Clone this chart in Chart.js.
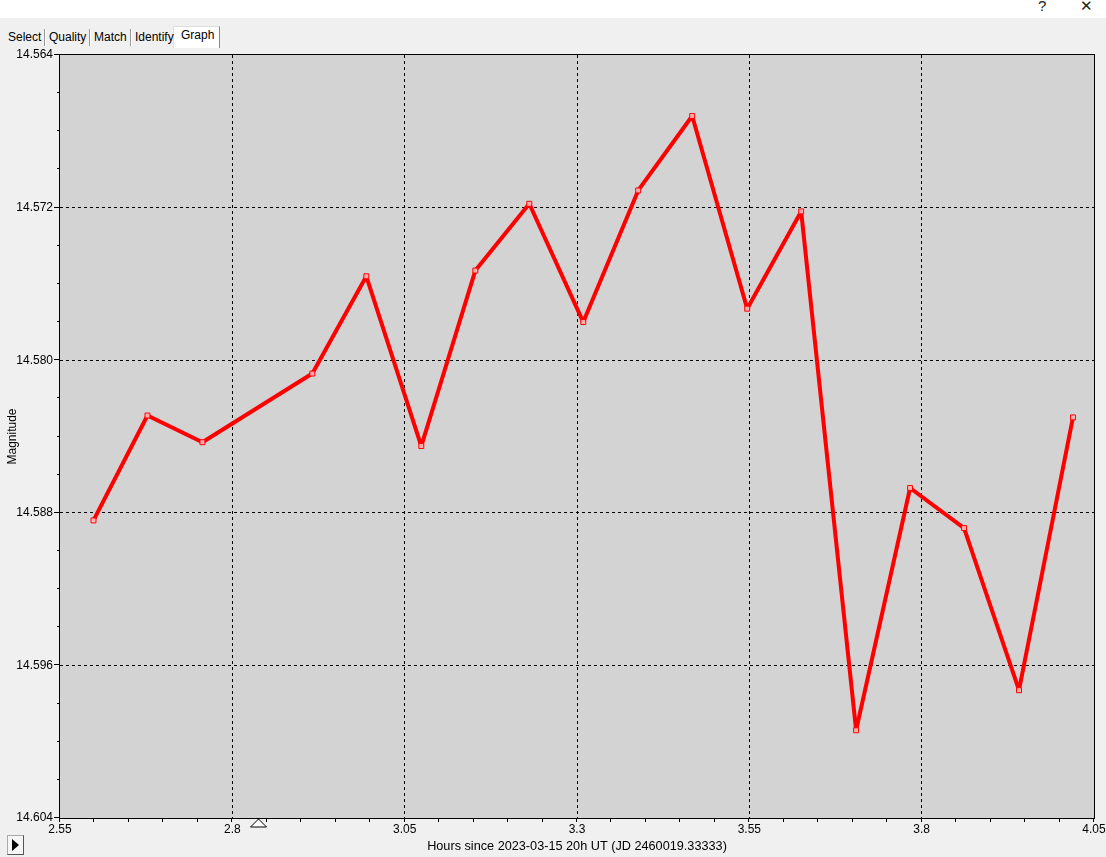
<!DOCTYPE html>
<html><head><meta charset="utf-8">
<script src="https://cdn.jsdelivr.net/npm/chart.js@4.4.1/dist/chart.umd.min.js"></script>
<style>
html,body{margin:0;padding:0;background:#f0f0f0;width:1106px;height:857px;overflow:hidden;font-family:"Liberation Sans",Arial,sans-serif;}
#top{position:absolute;left:0;top:0;width:1106px;height:18px;background:#fff;}
#top span{position:absolute;top:-3px;font-size:15px;color:#222;}
#tabs{position:absolute;left:4px;top:28px;height:20px;font-size:12px;color:#000;}
.tab{position:absolute;top:0;padding:0 3px;line-height:18px;}
.sep{position:absolute;top:1px;width:1px;height:17px;background:#999;border-right:1px solid #fff;}
#active{position:absolute;left:173px;top:26px;width:45px;height:21px;background:#fff;border:1px solid #ddd;border-right:1px solid #888;border-bottom:none;}
#wrap{position:absolute;left:0;top:0;width:1106px;height:857px;}
#play{position:absolute;left:7px;top:835px;width:15px;height:18px;background:#f6f6f6;border:1px solid #aaa;border-right-color:#555;border-bottom-color:#555;}
#play:after{content:"";position:absolute;left:4px;top:3px;border-left:7px solid #000;border-top:6px solid transparent;border-bottom:6px solid transparent;}
</style></head>
<body>
<div id="top"><span style="left:1038px">?</span><span style="left:1080px">✕</span></div>
<div id="active"></div>
<div id="tabs">
<span class="tab" style="left:1px">Select</span><span class="sep" style="left:40px"></span>
<span class="tab" style="left:42px">Quality</span><span class="sep" style="left:85px"></span>
<span class="tab" style="left:87px">Match</span><span class="sep" style="left:126px"></span>
<span class="tab" style="left:128px">Identify</span>
<span class="tab" style="left:174px;top:-2px">Graph</span>
</div>
<div id="wrap"><canvas id="c" width="1106" height="857"></canvas></div>
<div id="play"></div>
<script>
const hours = [2.5986, 2.6769, 2.7566, 2.9161, 2.9944, 3.0741, 3.1525, 3.2308, 3.3091, 3.3888, 3.4671, 3.5469, 3.6252, 3.7049, 3.7832, 3.8615, 3.9412, 4.0195];
const magnitudes = [14.5884, 14.5829, 14.5843, 14.5807, 14.5756, 14.5845, 14.5753, 14.5718, 14.5780, 14.5711, 14.5672, 14.5773, 14.5722, 14.5994, 14.5867, 14.5888, 14.5973, 14.5830];
const xTicks = [2.55, 2.8, 3.05, 3.3, 3.55, 3.8, 4.05];
const yTicks = [14.564, 14.572, 14.580, 14.588, 14.596, 14.604];
const xMinorStep = 0.05;
const yMinorStep = 0.002;
const cursorHour = 2.838;
const xTitle = "Hours since 2023-03-15 20h UT (JD 2460019.33333)";
const yTitle = "Magnitude";

const FONT = {family: '"Liberation Sans", Arial, sans-serif', size: 12};
const TITLE_FONT = {family: '"Liberation Sans", Arial, sans-serif', size: 12.7};

const frame = {
  id: 'frame',
  beforeDraw(chart) {
    const {ctx, chartArea: a} = chart;
    ctx.save();
    ctx.fillStyle = '#d3d3d3';
    ctx.fillRect(a.left, a.top, a.right - a.left, a.bottom - a.top);
    ctx.restore();
  },
  afterDraw(chart) {
    const {ctx, chartArea: a, scales: {x, y}} = chart;
    ctx.save();
    ctx.strokeStyle = '#000';
    ctx.lineWidth = 1;
    ctx.strokeRect(Math.round(a.left) - 0.5, Math.round(a.top) - 0.5, Math.round(a.right - a.left) + 1, Math.round(a.bottom - a.top) + 1);
    ctx.beginPath();
    const nx = Math.round((x.max - x.min) / xMinorStep);
    for (let i = 0; i <= nx; i++) {
      const px = Math.round(x.getPixelForValue(x.min + i * xMinorStep)) - 0.5;
      ctx.moveTo(px, a.bottom); ctx.lineTo(px, a.bottom + 4);
    }
    const ny = Math.round((y.max - y.min) / yMinorStep);
    for (let i = 0; i <= ny; i++) {
      const py = Math.round(y.getPixelForValue(y.min + i * yMinorStep)) - 0.5;
      const major = i % 4 === 0;
      ctx.moveTo(a.left - (major ? 6 : 3), py); ctx.lineTo(a.left, py);
    }
    ctx.stroke();
    const cx = x.getPixelForValue(cursorHour);
    ctx.beginPath();
    ctx.moveTo(cx, a.bottom + 1);
    ctx.lineTo(cx - 8, a.bottom + 9);
    ctx.lineTo(cx + 8, a.bottom + 9);
    ctx.closePath();
    ctx.fillStyle = '#fff';
    ctx.fill();
    ctx.stroke();
    ctx.restore();
  }
};

new Chart(document.getElementById('c'), {
  type: 'line',
  data: {
    datasets: [{
      data: hours.map((h, i) => ({x: h, y: magnitudes[i]})),
      borderColor: '#ff0000',
      borderWidth: 4,
      borderJoinStyle: 'round',
      tension: 0,
      pointStyle: 'rect',
      pointRadius: 3.5,
      pointBorderWidth: 1,
      pointBorderColor: '#ff0000',
      pointBackgroundColor: 'rgba(255,190,190,0.9)',
      fill: false
    }]
  },
  options: {
    responsive: false,
    animation: false,
    devicePixelRatio: 1,
    layout: {padding: {top: 55, right: 12, left: 0, bottom: 0}},
    plugins: {legend: {display: false}, tooltip: {enabled: false}},
    scales: {
      x: {
        type: 'linear',
        min: 2.55, max: 4.05,
        afterBuildTicks: s => { s.ticks = xTicks.map(v => ({value: v})); },
        afterFit: s => { s.height = 39; s.paddingLeft = 0; s.paddingRight = 0; },
        ticks: {font: FONT, color: '#000', padding: 4, maxRotation: 0, autoSkip: false,
                callback: v => String(+v.toFixed(2))},
        grid: {drawTicks: false, lineWidth: 1,
               color: c => (c.tick && c.tick.value > 2.56 && c.tick.value < 4.04) ? '#000' : 'rgba(0,0,0,0)'},
        border: {display: false, dash: [3, 3]},
        title: {display: true, text: xTitle, font: TITLE_FONT, color: '#000', padding: {top: 0, bottom: 3}}
      },
      y: {
        type: 'linear',
        reverse: true,
        min: 14.564, max: 14.604,
        afterBuildTicks: s => { s.ticks = yTicks.map(v => ({value: v})); },
        afterFit: s => { s.width = 60; s.paddingTop = 0; s.paddingBottom = 0; },
        ticks: {font: FONT, color: '#000', padding: 7, autoSkip: false,
                callback: v => v.toFixed(3)},
        grid: {drawTicks: false, lineWidth: 1,
               color: c => (c.tick && c.tick.value > 14.565 && c.tick.value < 14.603) ? '#000' : 'rgba(0,0,0,0)'},
        border: {display: false, dash: [3, 3]},
        title: {display: true, text: yTitle, font: FONT, color: '#000', padding: {top: 5, bottom: 0}}
      }
    }
  },
  plugins: [frame]
});
</script>
</body></html>
